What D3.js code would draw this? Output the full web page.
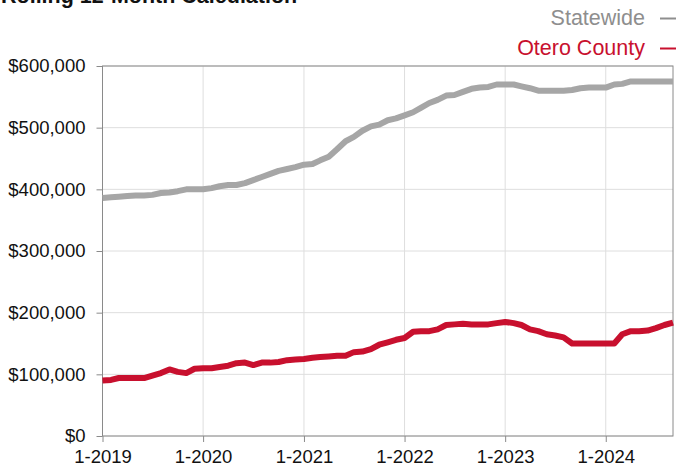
<!DOCTYPE html>
<html lang="en">
  <head>
    <meta charset="utf-8">
    <title>Rolling 12-Month Calculation</title>
    <style>
      body { margin: 0; background: #fff; }
      svg { display: block; font-family: 'Liberation Sans', Arial, sans-serif; }
    </style>
  </head>
  <body>
    <div id="chart"></div>
  </body>
  <script src="https://cdnjs.cloudflare.com/ajax/libs/d3/7.8.5/d3.min.js"></script>
  <script type="text/javascript">

    // monthly points, 1-2019 through 9-2024
    const startMonth = [2019, 0]
    const statewide = [
      386, 387, 388, 389, 390, 390, 391, 394, 395, 397, 400, 400,
      400, 402, 405, 407, 407, 410, 415, 420, 425, 430, 433, 436,
      440, 441, 447, 453, 465, 478, 485, 495, 502, 505, 512, 515,
      520, 525, 532, 540, 545, 552, 553, 558, 563, 565, 566, 570,
      570, 570, 567, 564, 560, 560, 560, 560, 561, 564, 565, 565,
      565, 570, 571, 575, 575, 575, 575, 575, 575
    ].map(v => v * 1000)
    const otero = [
      90, 91, 94, 94, 94, 94, 98, 102, 108, 104, 102, 109,
      110, 110, 112, 114, 118, 119, 115, 119, 119, 120, 123, 124,
      125, 127, 128, 129, 130, 130, 136, 137, 141, 148, 152, 156,
      159, 169, 170, 170, 173, 180, 181, 182, 181, 181, 181, 183,
      185, 183, 180, 173, 170, 165, 163, 160, 150, 150, 150, 150,
      150, 150, 165, 170, 170, 171, 175, 180, 184
    ].map(v => v * 1000)
    const yTicks = [0, 100000, 200000, 300000, 400000, 500000, 600000]
    const xTickYears = [2019, 2020, 2021, 2022, 2023, 2024]
    const seriesNames = ['Statewide', 'Otero County']
    const seriesColors = ['#a6a6a6', '#c8102e']
    const legendColors = ['#8e8e8e', '#c8102e']
    const title = 'Rolling 12-Month Calculation'

    const width = 676
    const height = 466
    const margin = { top: 66, right: 3, bottom: 30, left: 102.5 }

    const dates = statewide.map((d, i) => new Date(startMonth[0], startMonth[1] + i, 1))

    const x = d3.scaleTime()
      .domain([dates[0], dates[dates.length - 1]])
      .range([margin.left, width - margin.right])

    const y = d3.scaleLinear()
      .domain([0, 600000])
      .range([height - margin.bottom, margin.top])

    const svg = d3.select('#chart')
      .append('svg')
      .attr('width', width)
      .attr('height', height)

    // title, cut off at the top like in the source image
    svg.append('text')
      .attr('x', 1)
      .attr('y', 3)
      .text(title)
      .style('font-size', '21.5px')
      .style('font-weight', 'bold')
      .attr('fill', '#111')

    // grid
    const xTicks = xTickYears.map(yr => new Date(yr, 0, 1))
    svg.append('g')
      .selectAll('line')
      .data(yTicks)
      .join('line')
      .attr('x1', margin.left)
      .attr('x2', width - margin.right)
      .attr('y1', d => y(d))
      .attr('y2', d => y(d))
      .attr('stroke', '#dedede')

    svg.append('g')
      .selectAll('line')
      .data(xTicks)
      .join('line')
      .attr('x1', d => x(d))
      .attr('x2', d => x(d))
      .attr('y1', margin.top)
      .attr('y2', height - margin.bottom)
      .attr('stroke', '#dedede')

    // frame
    svg.append('rect')
      .attr('x', margin.left)
      .attr('y', margin.top)
      .attr('width', width - margin.right - margin.left)
      .attr('height', height - margin.bottom - margin.top)
      .attr('fill', 'none')
      .attr('stroke', '#8a8a8a')

    // axes
    const yAxis = svg.append('g')
      .attr('transform', `translate(${margin.left},0)`)
      .call(d3.axisLeft(y).tickValues(yTicks).tickSize(6).tickPadding(11)
        .tickFormat(d => '$' + d3.format(',')(d)))
    const xAxis = svg.append('g')
      .attr('transform', `translate(0,${height - margin.bottom})`)
      .call(d3.axisBottom(x).tickValues(xTicks).tickSize(6).tickPadding(8)
        .tickFormat(d => `${d.getMonth() + 1}-${d.getFullYear()}`))

    for (const ax of [xAxis, yAxis]) {
      ax.select('.domain').remove()
      ax.selectAll('line').attr('stroke', '#8a8a8a')
      ax.selectAll('text')
        .attr('fill', '#111')
        .style('font-size', '18.5px')
        .style('font-family', "'Liberation Sans', Arial, sans-serif")
    }

    // lines
    const line = d3.line()
      .x((d, i) => x(dates[i]))
      .y(d => y(d))

    svg.append('g')
      .selectAll('path')
      .data([statewide, otero])
      .join('path')
      .attr('d', line)
      .attr('fill', 'none')
      .attr('stroke', (d, i) => seriesColors[i])
      .attr('stroke-width', 6)
      .attr('stroke-linejoin', 'round')

    // legend
    const legend = svg.append('g')
    legend.selectAll('text')
      .data(seriesNames)
      .join('text')
      .attr('x', 645)
      .attr('y', (d, i) => 25 + i * 30)
      .attr('text-anchor', 'end')
      .attr('fill', (d, i) => legendColors[i])
      .style('font-size', '21.5px')
      .text(d => d)
    legend.selectAll('line')
      .data(seriesNames)
      .join('line')
      .attr('x1', 660)
      .attr('x2', 680)
      .attr('y1', (d, i) => 18.5 + i * 30)
      .attr('y2', (d, i) => 18.5 + i * 30)
      .attr('stroke', (d, i) => legendColors[i])
      .attr('stroke-width', 2)

  </script>
</html>
